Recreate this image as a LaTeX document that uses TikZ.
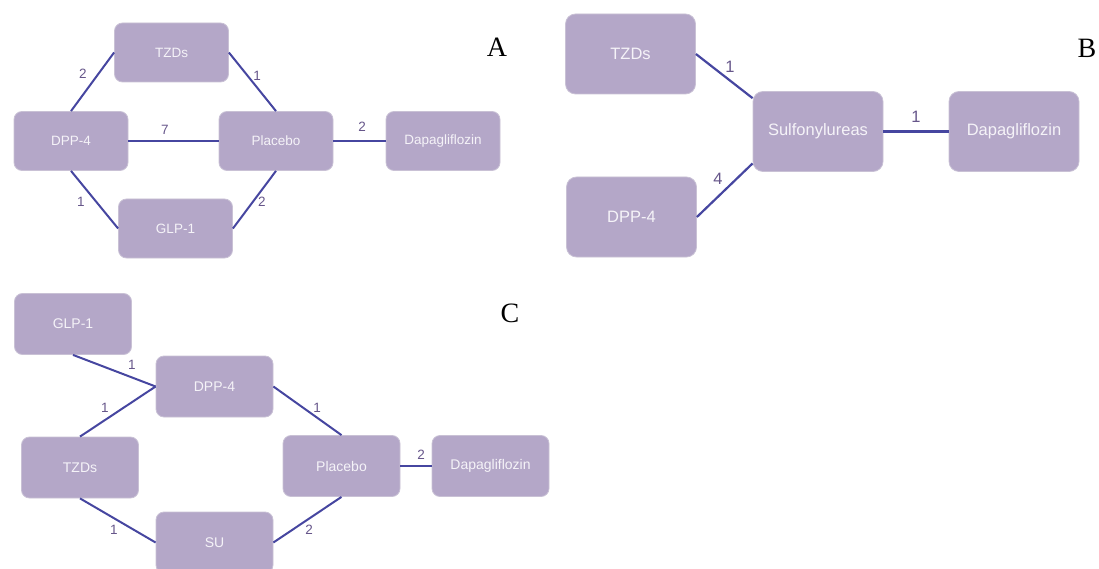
\documentclass[tikz,border=0pt]{standalone}
\usepackage{fontspec}
\setmainfont{Liberation Sans}
\newfontfamily\letterfont{Liberation Serif}
\definecolor{boxfill}{HTML}{B4A7C8}
\definecolor{boxline}{HTML}{C9C1D5}
\definecolor{boxtext}{HTML}{F5F3F8}
\definecolor{edgecol}{HTML}{4646A0}
\definecolor{numcol}{HTML}{66568A}
\tikzset{
  drug/.style={rectangle, rounded corners=8pt, fill=boxfill, draw=boxline, line width=0.8pt,
    text=boxtext, inner sep=0pt, align=center},
  drugA/.style={drug, minimum width=114pt, minimum height=59pt, font=\fontsize{13.5}{16}\selectfont},
  drugB/.style={drug, rounded corners=10pt, minimum width=130pt, minimum height=80pt, font=\fontsize{16.5}{19}\selectfont},
  drugC/.style={drug, minimum width=117pt, minimum height=61pt, font=\fontsize{14}{16}\selectfont},
  link/.style={draw=edgecol, line width=2pt},
  linkB/.style={draw=edgecol, line width=2.2pt},
  num/.style={text=numcol, inner sep=0pt, font=\fontsize{13.5}{15}\selectfont},
  numB/.style={text=numcol, inner sep=0pt, font=\fontsize{16.5}{19}\selectfont},
  panel/.style={inner sep=0pt, font=\letterfont\fontsize{28}{32}\selectfont}
}
\begin{document}
\begin{tikzpicture}[x=1pt, y=-1pt]
\useasboundingbox (0,0) rectangle (1099,569);

% ---- Network A ----
\node[drugA] (atzd) at (171.5,52.5) {TZDs};
\node[drugA] (adpp) at (71,141) {DPP-4};
\node[drugA] (apla) at (276,141) {Placebo};
\node[drugA] (adap) at (443,141) {Dapagliflozin};
\node[drugA] (aglp) at (175.5,228.5) {GLP-1};
\draw[link] (adpp.north) -- (atzd.west);
\draw[link] (atzd.east) -- (apla.north);
\draw[link] (adpp.east) -- (apla.west);
\draw[link] (apla.east) -- (adap.west);
\draw[link] (adpp.south) -- (aglp.west);
\draw[link] (aglp.east) -- (apla.south);
\node[num] (an1) at (83,74) {2};
\node[num] (an2) at (257,76) {1};
\node[num] (an3) at (165,130) {7};
\node[num] (an4) at (362,127) {2};
\node[num] (an5) at (81,202) {1};
\node[num] (an6) at (262,202) {2};
\node[panel] (la) at (497,47) {A};

% ---- Network B ----
\node[drugB] (btzd) at (630.5,54) {TZDs};
\node[drugB] (bsul) at (818,131.5) {Sulfonylureas};
\node[drugB] (bdap) at (1014,131.5) {Dapagliflozin};
\node[drugB] (bdpp) at (631.5,217) {DPP-4};
\draw[linkB] (btzd.east) -- (bsul.153);
\draw[linkB] (bdpp.east) -- (bsul.206);
\draw[linkB] (bsul.east) -- (bdap.west);
\node[numB] (bn1) at (730,67) {1};
\node[numB] (bn2) at (718,179) {4};
\node[numB] (bn3) at (916,117) {1};
\node[panel] (lb) at (1087,48) {B};

% ---- Network C ----
\node[drugC] (cglp) at (73,324) {GLP-1};
\node[drugC] (cdpp) at (214.5,386.5) {DPP-4};
\node[drugC] (ctzd) at (80,467.5) {TZDs};
\node[drugC] (cpla) at (341.5,466) {Placebo};
\node[drugC] (cdap) at (490.5,466) {Dapagliflozin};
\node[drugC] (csu) at (214.5,542.5) {SU};
\draw[link] (cglp.south) -- (cdpp.west);
\draw[link] (ctzd.north) -- (cdpp.west);
\draw[link] (cdpp.east) -- (cpla.north);
\draw[link] (ctzd.south) -- (csu.west);
\draw[link] (csu.east) -- (cpla.south);
\draw[link] (cpla.east) -- (cdap.west);
\node[num] (cn1) at (132,365) {1};
\node[num] (cn2) at (105,408) {1};
\node[num] (cn3) at (317,408) {1};
\node[num] (cn4) at (114,530) {1};
\node[num] (cn5) at (309,530) {2};
\node[num] (cn6) at (421,455) {2};
\node[panel] (lc) at (510,313) {C};
\end{tikzpicture}
\end{document}
